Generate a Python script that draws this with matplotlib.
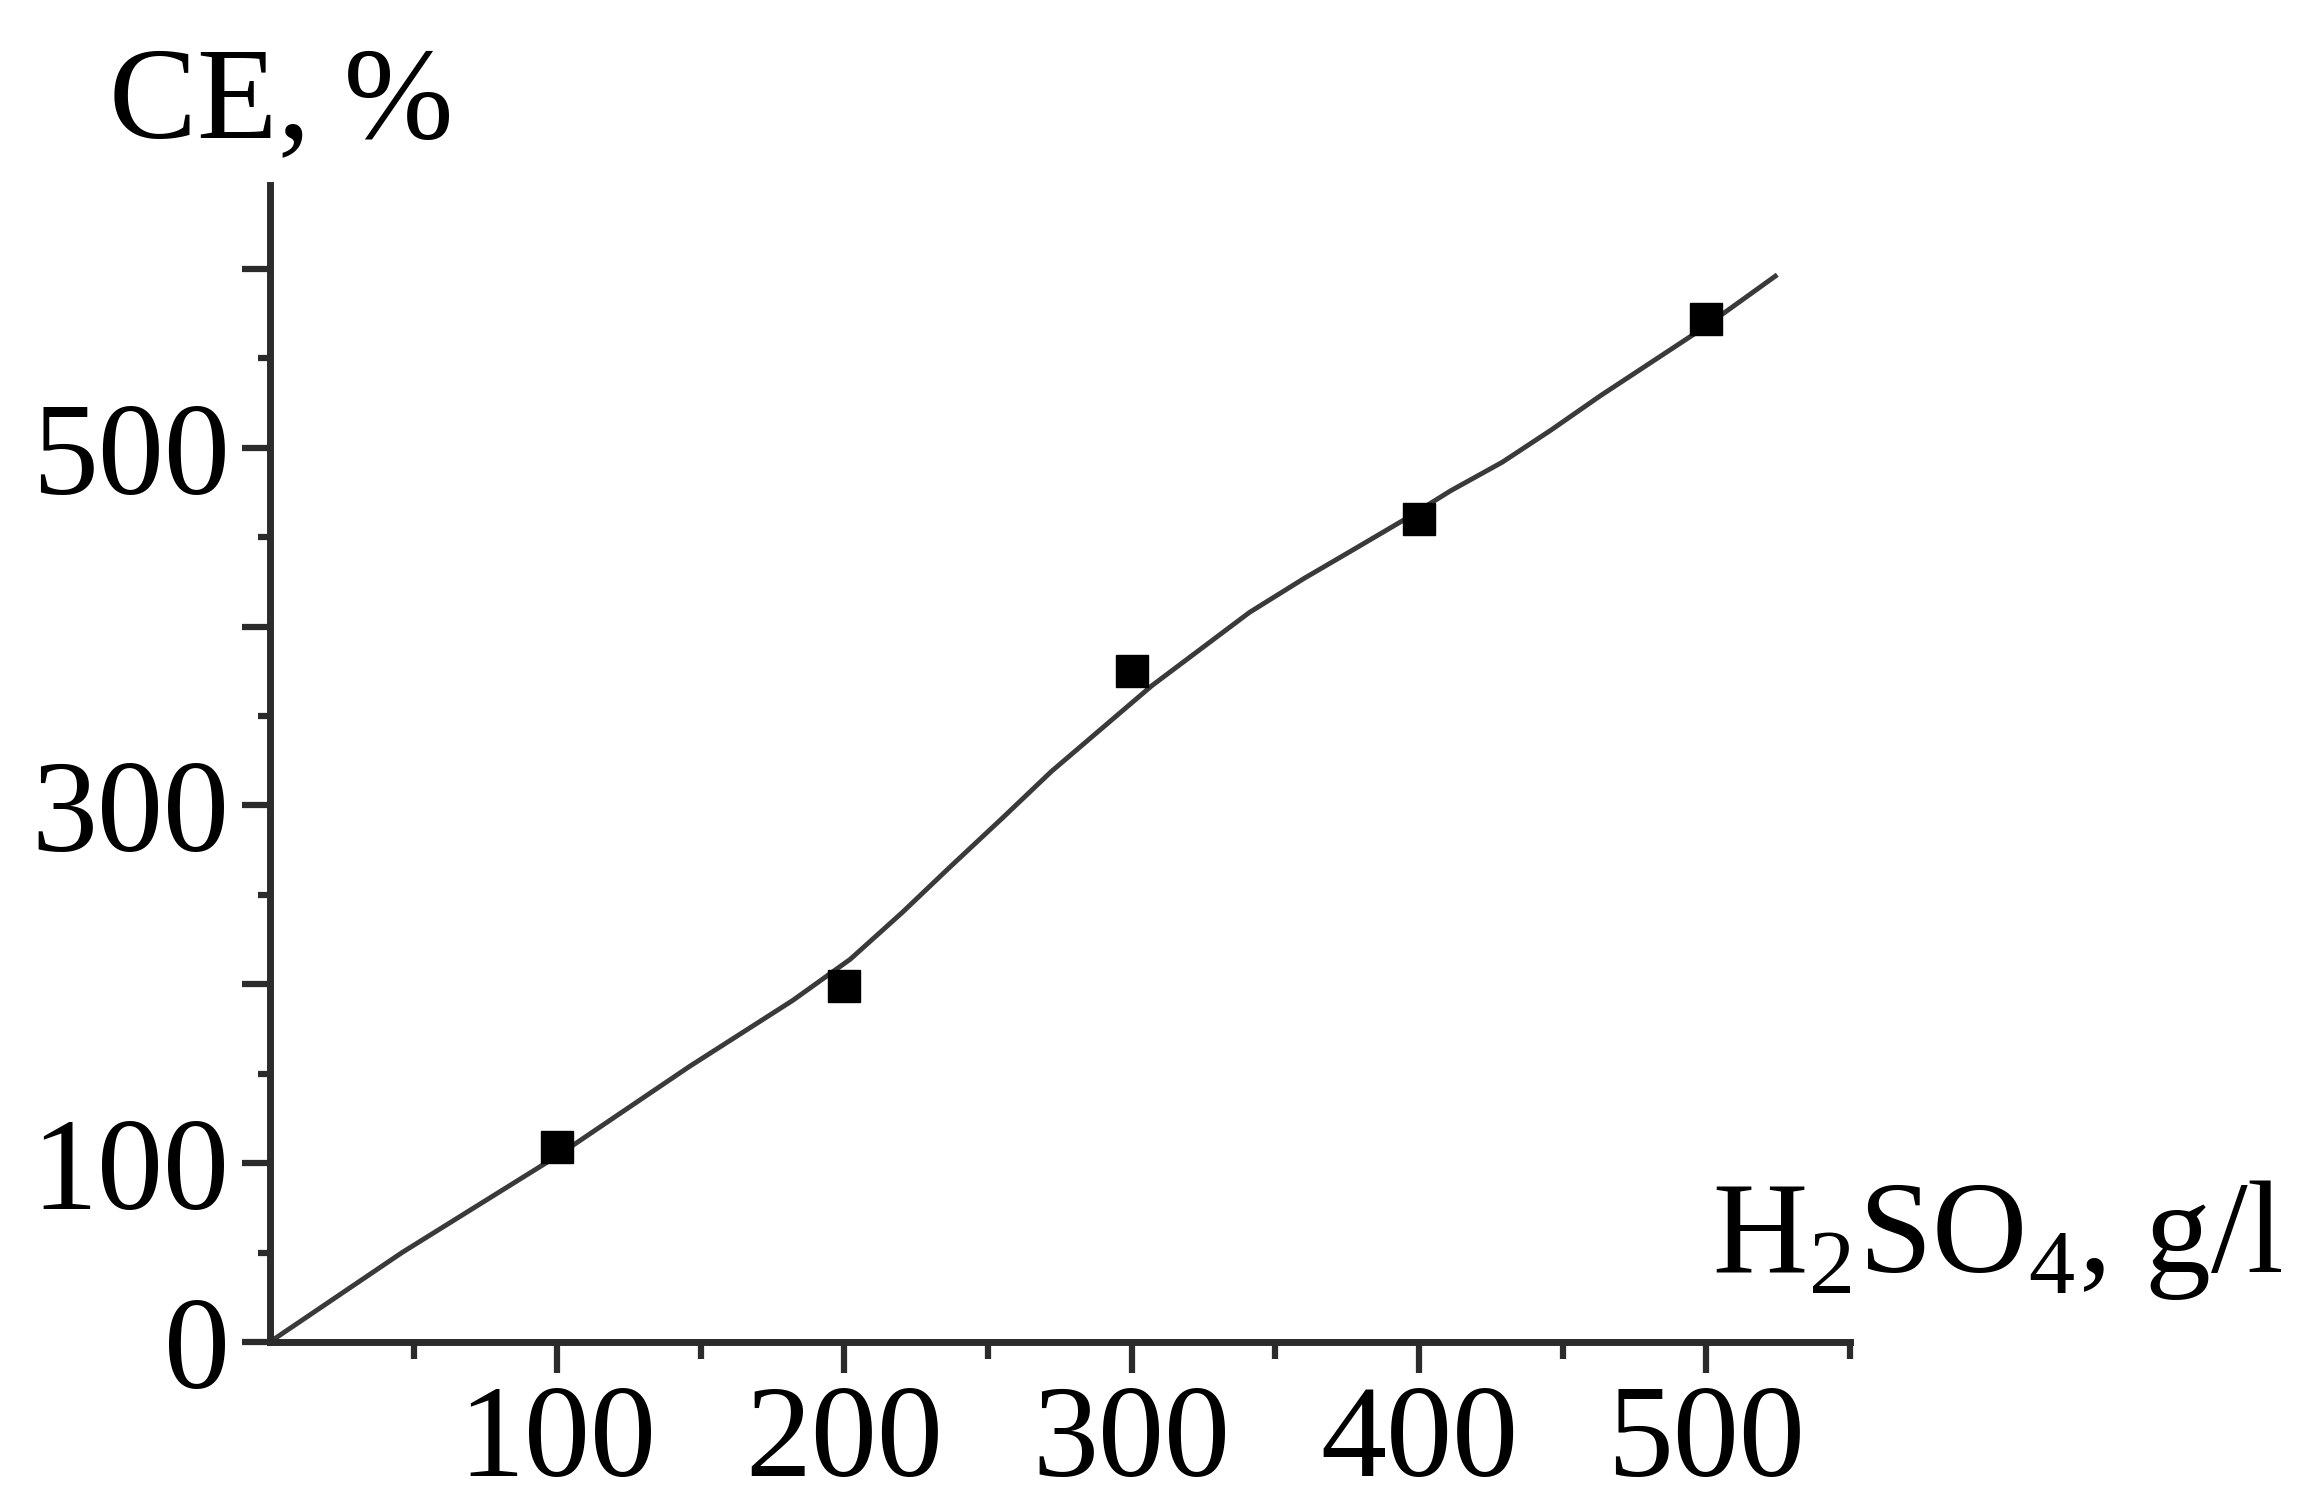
import numpy as np
import matplotlib
matplotlib.use("Agg")
import matplotlib.pyplot as plt

# measured points (H2SO4 concentration, g/l -> CE, %)
conc = [100, 200, 300, 400, 500]
ce = [109, 199, 375, 460, 572]

# fitted curve
fit_x = [0, 46, 100, 146, 182, 202, 220, 237, 255, 272, 307, 341, 360, 376, 394, 411, 429, 446, 463, 498, 524]
fit_y = [0, 50, 104, 154, 191, 214, 240, 266, 293, 319, 367, 408, 427, 442, 459, 476, 492, 510, 529, 566, 596]

y_ticks = [0, 100, 200, 300, 400, 500, 600]
y_labels = ['0', '100', '', '300', '', '500', '']
x_ticks = [100, 200, 300, 400, 500]
x_labels = ['100', '200', '300', '400', '500']

plt.rcParams['font.family'] = ['Liberation Serif', 'DejaVu Serif']
plt.rcParams['mathtext.fontset'] = 'custom'
plt.rcParams['mathtext.rm'] = 'Liberation Serif'

fs = 95
axcol = '#2b2b2b'

fig = plt.figure(figsize=(23.09, 15.10), dpi=100)
ax = fig.add_axes([0.1169, 0.1113, 0.6843, 0.7662])

ax.plot(fit_x, fit_y, color='#3a3a3a', lw=3.5, clip_on=False, zorder=2,
        solid_joinstyle='round')
ax.plot(conc, ce, 's', color='black', ms=23, clip_on=False, zorder=3)

ax.set_xlim(0, 550)
ax.set_ylim(0, 647)

for s in ['top', 'right']:
    ax.spines[s].set_visible(False)
for s in ['left', 'bottom']:
    ax.spines[s].set_linewidth(5)
    ax.spines[s].set_color(axcol)
    ax.spines[s].set_capstyle('projecting')

ax.set_yticks(y_ticks, y_labels)
ax.set_yticks(np.arange(50, 600, 100), minor=True)
ax.set_xticks(x_ticks, x_labels)
ax.set_xticks([50, 150, 250, 350, 450, 550], minor=True)

ax.tick_params(axis='y', which='major', direction='out', length=20, width=4.5,
               color=axcol, labelsize=fs, pad=9)
ax.tick_params(axis='y', which='minor', direction='out', length=9, width=4.5, color=axcol)
ax.tick_params(axis='x', which='major', direction='out', length=22, width=4.5,
               color=axcol, labelsize=fs, pad=9)
ax.tick_params(axis='x', which='minor', direction='out', length=12, width=4.5, color=axcol)

fig.text(109 / 2309, 1 - 137 / 1510, 'CE, %', fontsize=fs, ha='left', va='baseline')
fig.text(2283 / 2309, 1 - 1272 / 1510, r'H$_\mathrm{2}$SO$_\mathrm{4}$, g/l', fontsize=fs,
         ha='right', va='baseline')

fig.savefig('out.png', dpi=100)
